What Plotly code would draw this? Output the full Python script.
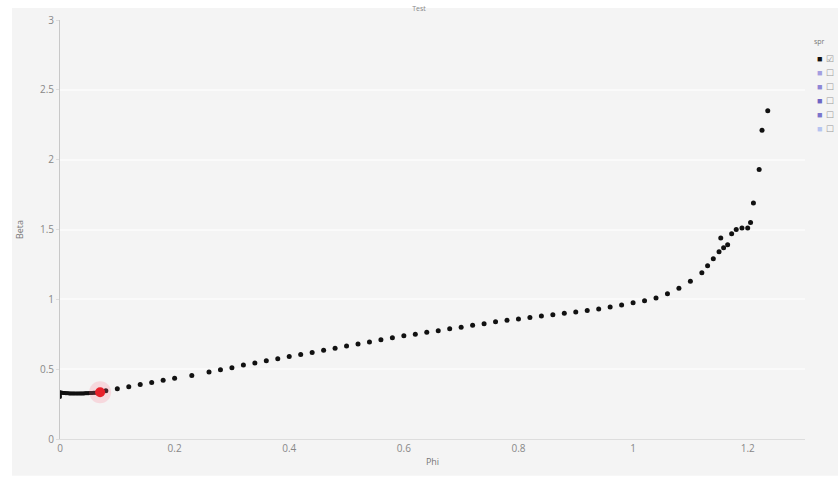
import plotly.graph_objects as go

# dense start segment (phi, beta)
phi_dense = [0.0, 0.0, 0.0, 0.002, 0.004, 0.006, 0.008, 0.010, 0.012, 0.014, 0.016, 0.018,
             0.020, 0.022, 0.024, 0.026, 0.028, 0.030, 0.032, 0.034, 0.036, 0.038, 0.040,
             0.042, 0.044, 0.046, 0.048, 0.050, 0.052, 0.054, 0.056, 0.058, 0.060, 0.062,
             0.064, 0.066, 0.068]
beta_dense = [0.30, 0.32, 0.335, 0.333, 0.331, 0.330, 0.329, 0.328, 0.327, 0.327, 0.326, 0.326,
              0.325, 0.325, 0.325, 0.325, 0.325, 0.325, 0.325, 0.325, 0.325, 0.326, 0.326,
              0.326, 0.327, 0.327, 0.328, 0.328, 0.329, 0.329, 0.330, 0.331, 0.331, 0.332,
              0.333, 0.334, 0.335]

# main sparse points
phi_main = [0.08, 0.10, 0.12, 0.14, 0.16, 0.18, 0.20, 0.23, 0.26, 0.28, 0.30, 0.32, 0.34,
            0.36, 0.38, 0.40, 0.42, 0.44, 0.46, 0.48, 0.50, 0.52, 0.54, 0.56, 0.58, 0.60,
            0.62, 0.64, 0.66, 0.68, 0.70, 0.72, 0.74, 0.76, 0.78, 0.80, 0.82, 0.84, 0.86,
            0.88, 0.90, 0.92, 0.94, 0.96, 0.98, 1.00, 1.02, 1.04, 1.06, 1.08, 1.10, 1.12,
            1.13, 1.14, 1.15, 1.153, 1.158, 1.165, 1.172, 1.18, 1.19, 1.2, 1.205, 1.21,
            1.22, 1.225, 1.235]
beta_main = [0.345, 0.36, 0.375, 0.39, 0.405, 0.42, 0.435, 0.455, 0.48, 0.495, 0.51, 0.53, 0.545,
             0.56, 0.575, 0.59, 0.605, 0.62, 0.635, 0.65, 0.665, 0.68, 0.695, 0.71, 0.725, 0.74,
             0.75, 0.765, 0.775, 0.79, 0.80, 0.815, 0.825, 0.84, 0.85, 0.86, 0.87, 0.88,
             0.89, 0.90, 0.91, 0.92, 0.93, 0.945, 0.96, 0.975, 0.99, 1.01, 1.04, 1.08,
             1.13, 1.19, 1.24, 1.29, 1.34, 1.44, 1.37, 1.39, 1.47, 1.50, 1.51, 1.51, 1.55,
             1.69, 1.93, 2.21, 2.35]

# selected point
phi_sel = [0.07]
beta_sel = [0.335]

legend_title = "spr"
legend_labels = ["☑", "☐", "☐", "☐", "☐", "☐"]
legend_colors = ["#111111", "#a49ee0", "#8f86d6", "#6f66c4", "#7b74cc", "#b6c4f0"]

fig = go.Figure()
fig.add_trace(go.Scatter(x=phi_dense, y=beta_dense, mode="lines+markers",
                         line=dict(color="#111111", width=3),
                         marker=dict(color="#111111", size=4), showlegend=False))
fig.add_trace(go.Scatter(x=phi_main, y=beta_main, mode="markers",
                         marker=dict(color="#111111", size=5), showlegend=False))
fig.add_trace(go.Scatter(x=phi_sel, y=beta_sel, mode="markers",
                         marker=dict(color="rgba(255,120,140,0.22)", size=22),
                         showlegend=False, hoverinfo="skip"))
fig.add_trace(go.Scatter(x=phi_sel, y=beta_sel, mode="markers",
                         marker=dict(color="#e8202a", size=10), showlegend=False))

# background panel (the chart card)
fig.add_shape(type="rect", xref="paper", yref="paper",
              x0=(12 - 60) / 745, x1=(838 - 60) / 745,
              y0=(440 - 477) / 422, y1=(440 - 6) / 422,
              fillcolor="#f4f4f4", line=dict(width=0), layer="below")

# legend built from annotations
ann = [dict(text=legend_title, xref="paper", yref="paper",
            x=(812 - 60) / 745, y=(440 - 40) / 422, xanchor="left", yanchor="middle",
            showarrow=False, font=dict(size=7, color="#777"))]
for i, (lab, col) in enumerate(zip(legend_labels, legend_colors)):
    yp = 57 + 14 * i
    ann.append(dict(text="■", xref="paper", yref="paper",
                    x=(815 - 60) / 745, y=(440 - yp) / 422, xanchor="left", yanchor="middle",
                    showarrow=False, font=dict(size=9, color=col)))
    ann.append(dict(text=lab, xref="paper", yref="paper",
                    x=(824 - 60) / 745, y=(440 - yp) / 422, xanchor="left", yanchor="middle",
                    showarrow=False, font=dict(size=9, color="#999")))

fig.update_layout(
    width=838, height=477,
    margin=dict(l=60, r=33, t=18, b=37),
    paper_bgcolor="white",
    plot_bgcolor="#f2f2f2",
    title=dict(text="Test", x=0.5, xanchor="center",
               y=1 - 9 / 477, yanchor="middle", font=dict(size=7, color="#888")),
    showlegend=False,
    annotations=ann,
    font=dict(family="Open Sans", color="#777"),
    xaxis=dict(range=[0, 1.3], tickvals=[0, 0.2, 0.4, 0.6, 0.8, 1, 1.2],
               ticktext=["0", "0.2", "0.4", "0.6", "0.8", "1", "1.2"],
               showgrid=False, zeroline=False, showline=True, linecolor="#dddddd",
               tickfont=dict(size=10, color="#888"),
               title=dict(text="Phi", font=dict(size=9, color="#777"), standoff=4)),
    yaxis=dict(range=[0, 3], tickvals=[0, 0.5, 1, 1.5, 2, 2.5, 3],
               ticktext=["0", "0.5", "1", "1.5", "2", "2.5", "3"],
               showgrid=True, gridcolor="#fafafa", gridwidth=2, zeroline=False,
               showline=True, linecolor="#c8c8c8", ticks="outside", ticklen=3,
               tickcolor="#dddddd",
               tickfont=dict(size=10, color="#888"),
               title=dict(text="Beta", font=dict(size=9, color="#777"), standoff=14)),
)

fig.write_html("out.html")
